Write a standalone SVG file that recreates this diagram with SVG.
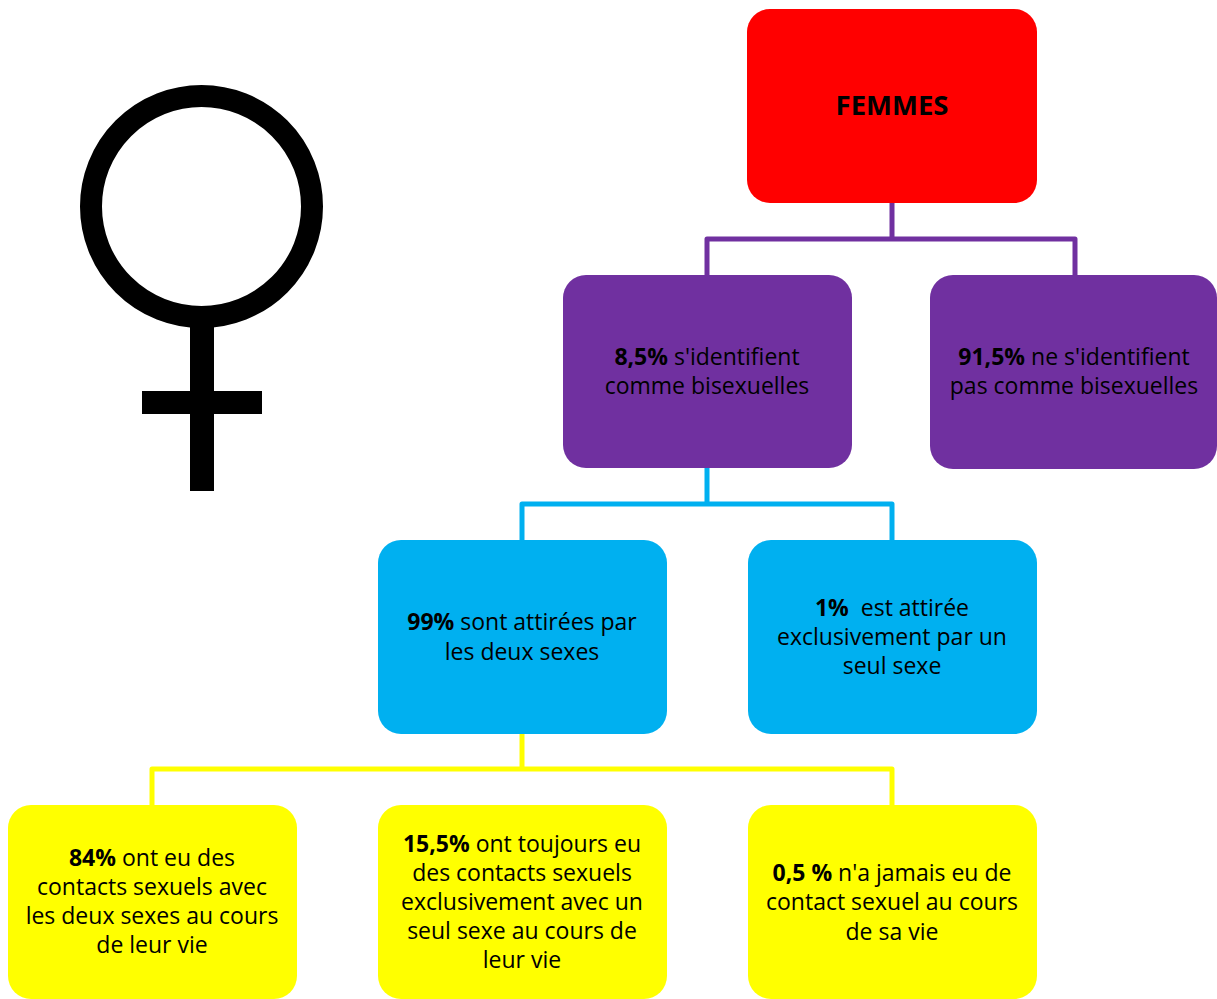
<svg xmlns="http://www.w3.org/2000/svg" width="1217" height="999" viewBox="0 0 1217 999">
<style>
.t{font-family:"Open Sans","Noto Sans","Liberation Sans",sans-serif;font-size:23px;fill:#000;text-anchor:middle}
.b{font-weight:bold}
.c{fill:none;stroke-width:5;stroke-linejoin:round}
</style>
<rect width="1217" height="999" fill="#fff"/>
<g id="symbol">
<circle cx="201.5" cy="206.5" r="110.5" fill="none" stroke="#000" stroke-width="22"/>
<rect x="190" y="320" width="24" height="171" fill="#000"/>
<rect x="142" y="391" width="120" height="23" fill="#000"/>
</g>
<g id="connectors">
<path class="c" stroke="#7030A0" d="M892,203 V239 M707,275 V239 H1075 V275"/>
<path class="c" stroke="#00B0F0" d="M707,468 V504 M522,540 V504 H892 V540"/>
<path class="c" stroke="#FFFF00" d="M522,734 V769 M152,805 V769 H892 V805"/>
</g>
<g id="femmes">
<rect x="747" y="9" width="290" height="194" rx="23" fill="#FF0000"/>
<text class="t b" x="892" y="115" style="font-size:27.5px">FEMMES</text>
</g>
<g id="bi">
<rect x="563" y="275" width="289" height="193" rx="23" fill="#7030A0"/>
<text class="t" x="707" y="365"><tspan class="b">8,5%</tspan> s'identifient</text>
<text class="t" x="707" y="394">comme bisexuelles</text>
</g>
<g id="nonbi">
<rect x="930" y="275" width="287" height="194" rx="23" fill="#7030A0"/>
<text class="t" x="1074" y="365"><tspan class="b">91,5%</tspan> ne s'identifient</text>
<text class="t" x="1074" y="394">pas comme bisexuelles</text>
</g>
<g id="deux">
<rect x="378" y="540" width="289" height="194" rx="23" fill="#00B0F0"/>
<text class="t" x="522" y="630"><tspan class="b">99%</tspan> sont attirées par</text>
<text class="t" x="522" y="660">les deux sexes</text>
</g>
<g id="seul">
<rect x="748" y="540" width="289" height="194" rx="23" fill="#00B0F0"/>
<text class="t" x="892" y="616" xml:space="preserve"><tspan class="b">1%</tspan>  est attirée</text>
<text class="t" x="892" y="645">exclusivement par un</text>
<text class="t" x="892" y="674">seul sexe</text>
</g>
<g id="y84">
<rect x="8" y="805" width="289" height="194" rx="23" fill="#FFFF00"/>
<text class="t" x="152" y="866"><tspan class="b">84%</tspan> ont eu des</text>
<text class="t" x="152" y="895">contacts sexuels avec</text>
<text class="t" x="152" y="924">les deux sexes au cours</text>
<text class="t" x="152" y="953">de leur vie</text>
</g>
<g id="y155">
<rect x="378" y="805" width="289" height="194" rx="23" fill="#FFFF00"/>
<text class="t" x="522" y="852"><tspan class="b">15,5%</tspan> ont toujours eu</text>
<text class="t" x="522" y="881">des contacts sexuels</text>
<text class="t" x="522" y="910">exclusivement avec un</text>
<text class="t" x="522" y="939">seul sexe au cours de</text>
<text class="t" x="522" y="968">leur vie</text>
</g>
<g id="y05">
<rect x="748" y="805" width="289" height="194" rx="23" fill="#FFFF00"/>
<text class="t" x="892" y="881"><tspan class="b">0,5 %</tspan> n'a jamais eu de</text>
<text class="t" x="892" y="910">contact sexuel au cours</text>
<text class="t" x="892" y="940">de sa vie</text>
</g>
</svg>
